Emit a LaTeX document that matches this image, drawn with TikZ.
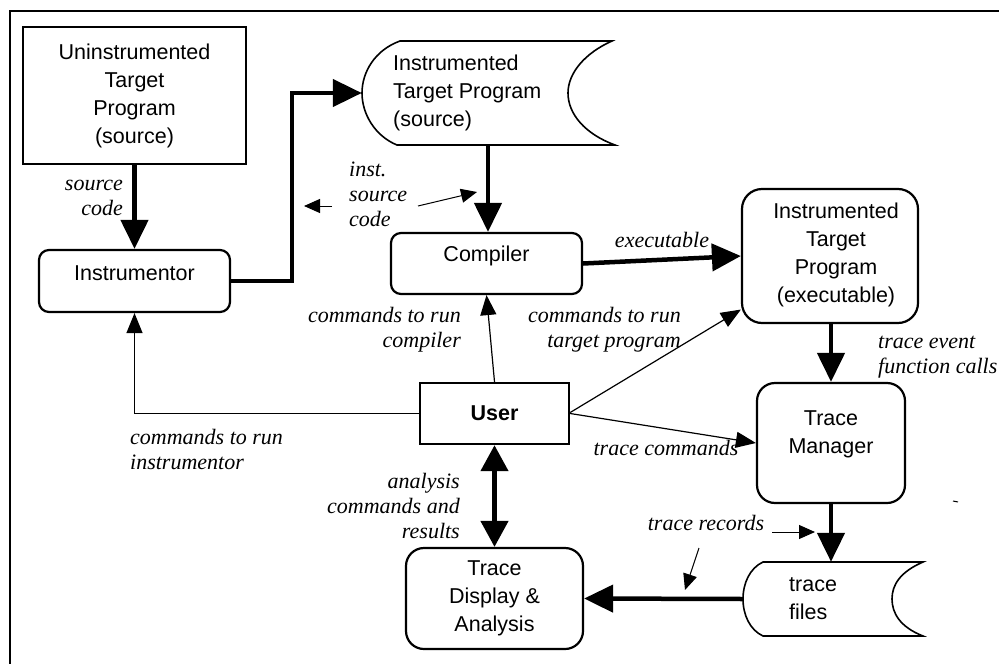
\documentclass[tikz,border=0pt]{standalone}
\usepackage{fontspec}
\setmainfont{Liberation Serif}
\newfontfamily\arialf{Liberation Sans}
\usetikzlibrary{arrows.meta,calc}

\begin{document}
\begin{tikzpicture}[x=1pt,y=-1pt,
  sans/.style={font=\arialf\fontsize{21.5}{28}\selectfont, align=center, inner sep=0pt},
  lbl/.style={font=\itshape\fontsize{22}{25}\selectfont, inner sep=0pt},
  sqbox/.style={draw, line width=2.4pt, inner sep=0pt},
  rbox/.style={draw, line width=2.2pt, rounded corners=10pt, inner sep=0pt},
  store/.style={line width=1.6pt},
  heavy/.style={line width=4.5pt, -{Triangle[length=29pt,width=27pt]}},
  heavy2/.style={line width=4.5pt, {Triangle[length=26pt,width=27pt]}-{Triangle[length=26pt,width=27pt]}},
  lite/.style={line width=1.2pt, -{Triangle[length=20pt,width=16pt]}},
  ptr/.style={line width=1pt, -{Triangle[length=16pt,width=14pt]}}
]
\useasboundingbox (0,0) rectangle (999,664);

% frame
\draw[line width=1.5pt] (10,664) -- (10,11) -- (999,11);

% ---- boxes ----
\node[sqbox, sans, minimum width=223pt, minimum height=137pt] (uninst) at (134.5,95.5)
  {Uninstrumented\\Target\\Program\\(source)};

\node[rbox, minimum width=191pt, minimum height=62pt] (instr) at (134.5,281) {};
\node[sans] (instr-t) at (134.5,273) {Instrumentor};

% instrumented source (stored data shape)
\node[inner sep=0pt, minimum width=206pt, minimum height=104pt] (isrc) at (465,93) {};
\draw[store] (400,41) -- (612,41)
  .. controls (585,53) and (568,73) .. (568,93)
  .. controls (568,114) and (585,134) .. (615,145) -- (397,145)
  .. controls (375,136) and (362,114) .. (362,93)
  .. controls (362,72) and (375,50) .. (400,41) -- cycle;
\node[sans, align=left, anchor=west] (isrc-t) at (393,93) {Instrumented\\Target Program\\(source)};

\node[rbox, minimum width=191pt, minimum height=61pt] (comp) at (486.5,263.5) {};
\node[sans] (comp-t) at (486.5,256) {Compiler};

\node[rbox, rounded corners=20pt, minimum width=176pt, minimum height=134pt] (exec) at (830,256) {};
\node[sans] (exec-t) at (836,255) {Instrumented\\Target\\Program\\(executable)};

\node[sqbox, font=\arialf\bfseries\fontsize{21.5}{28}\selectfont, minimum width=149pt, minimum height=61pt] (user) at (494.5,413.5) {User};

\node[rbox, rounded corners=18pt, minimum width=148pt, minimum height=120pt] (tm) at (831,443) {};
\node[sans] (tm-t) at (831,434) {Trace\\Manager};

\node[rbox, rounded corners=18pt, sans, minimum width=177pt, minimum height=101pt] (tda) at (494.5,598.5)
  {Trace\\Display \&\\Analysis};

% trace files (stored data shape)
\node[inner sep=0pt, minimum width=149pt, minimum height=74pt] (tf) at (817.5,599) {};
\draw[store] (763,562) -- (923,562)
  .. controls (900,572) and (892,585) .. (892,599)
  .. controls (892,613) and (900,627) .. (923,636) -- (763,636)
  .. controls (750,630) and (743,615) .. (743,599)
  .. controls (743,583) and (750,568) .. (763,562) -- cycle;
\node[sans, align=left, anchor=west] (tf-t) at (789,599) {trace\\files};

% ---- data flow ----
\draw[heavy] (uninst.south) -- (instr.north);
\draw[heavy] (instr.east) -- ++(61,0) |- (isrc.west);
\draw[heavy] (isrc.south -| 488,0) -- (comp.north -| 488,0);
\draw[heavy] (comp.east) -- (exec.west);
\draw[heavy] (exec.south -| tm.north) -- (tm.north);
\draw[heavy] (tm.south) -- (tm.south |- tf.north);
\draw[heavy] (tf.west) -- (tda.east);
\draw[heavy2] (user.south) -- (tda.north);

% ---- user commands ----
\draw[lite] (user.north) -- (comp.south);
\draw[lite] (user.east) ++(0,-1) -- (exec.211);
\draw[lite] (user.west) -| (instr.south);
\draw[lite] (user.east) -- (tm.west);

% ---- labels ----
\node[lbl, align=right, anchor=east] (l-src) at (123,197.5) {source\\code};
\node[lbl, align=left, anchor=west] (l-inst) at (349,194) {inst.\\source\\code};
\node[lbl] (l-exe) at (662,240) {executable};
\node[lbl, align=right, anchor=east] (l-cc) at (461,329.5) {commands to run\\compiler};
\node[lbl, align=right, anchor=east] (l-ct) at (681,329.5) {commands to run\\target program};
\node[lbl, align=left, anchor=west] (l-tev) at (878,357) {trace event\\function calls};
\node[lbl, align=left, anchor=west] (l-ci) at (130,449) {commands to run\\instrumentor};
\node[lbl] (l-tc) at (666,448) {trace commands};
\node[lbl, align=right, anchor=east] (l-an) at (460,506) {analysis\\commands and\\results};
\node[lbl] (l-tr) at (706,523) {trace records};

% label pointers
\coordinate (p1a) at (418,206); \coordinate (p1b) at (477,192);
\coordinate (p2a) at (332,206); \coordinate (p2b) at (304,206);
\coordinate (p3a) at (772,532); \coordinate (p3b) at (815,532);
\coordinate (p4a) at (699,548); \coordinate (p4b) at (685,590);
\draw[ptr] (p1a) -- (p1b);
\draw[ptr] (p2a) -- (p2b);
\draw[ptr] (p3a) -- (p3b);
\draw[ptr] (p4a) -- (p4b);

% stray mark
\coordinate (m1) at (953,501); \coordinate (m2) at (958,502);
\draw[line width=1pt] (m1) -- (m2);
\end{tikzpicture}
\end{document}
